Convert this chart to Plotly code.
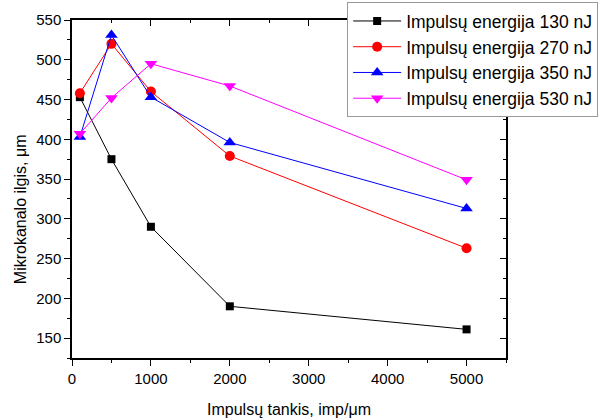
import plotly.graph_objects as go

x_vals = [100, 500, 1000, 2000, 5000]
e130 = [453, 375, 290, 190, 161]
e270 = [458, 520, 460, 379, 263]
e350 = [403, 531, 453, 396, 313]
e530 = [407, 452, 495, 467, 349]

names = ["Impulsų energija 130 nJ", "Impulsų energija 270 nJ",
         "Impulsų energija 350 nJ", "Impulsų energija 530 nJ"]
series = [e130, e270, e350, e530]
colors = ["#000000", "#ff0000", "#0000ff", "#ff00ff"]
symbols = ["square", "circle", "triangle-up", "triangle-down"]
sizes = [8, 10, 11, 11]

fig = go.Figure()
for n, s, c, sym, sz in zip(names, series, colors, symbols, sizes):
    fig.add_trace(go.Scatter(x=x_vals, y=s, name=n, mode="lines+markers",
                             line=dict(color=c, width=1),
                             marker=dict(symbol=sym, size=sz, color=c)))

# dummy trace for mirrored axes
fig.add_trace(go.Scatter(x=[None], y=[None], xaxis="x2", yaxis="y2", showlegend=False))

font = "Arial, Liberation Sans, sans-serif"
xt = [0, 1000, 2000, 3000, 4000, 5000]
yt = [150, 200, 250, 300, 350, 400, 450, 500, 550]
fig.update_layout(
    width=605, height=418,
    margin=dict(l=72, r=99, t=20, b=60, autoexpand=False),
    paper_bgcolor="white", plot_bgcolor="white",
    font=dict(family=font, color="black", size=15),
    xaxis=dict(range=[0, 5500], tickvals=xt,
               ticks="outside", ticklen=6, tickwidth=1, tickcolor="black",
               minor=dict(dtick=500, ticks="outside", ticklen=3, tickcolor="black"),
               showline=True, linecolor="black", linewidth=1.5, showgrid=False, zeroline=False,
               title=dict(text="Impulsų tankis, imp/μm", font=dict(size=16), standoff=18),
               tickfont=dict(size=15)),
    yaxis=dict(range=[125, 550], tickvals=yt,
               ticks="outside", ticklen=6, tickwidth=1, tickcolor="black",
               minor=dict(dtick=25, tick0=125, ticks="outside", ticklen=3, tickcolor="black"),
               showline=True, linecolor="black", linewidth=1.5, showgrid=False, zeroline=False,
               tickfont=dict(size=15)),
    xaxis2=dict(range=[0, 5500], overlaying="x", side="top", tickvals=xt,
                ticks="inside", ticklen=6, tickcolor="black", showticklabels=False,
                minor=dict(dtick=500, ticks="inside", ticklen=3, tickcolor="black"),
                showline=True, linecolor="black", linewidth=1.5, showgrid=False, zeroline=False),
    yaxis2=dict(range=[125, 550], overlaying="y", side="right", tickvals=yt,
                ticks="inside", ticklen=6, tickcolor="black", showticklabels=False,
                minor=dict(dtick=25, tick0=125, ticks="inside", ticklen=3, tickcolor="black"),
                showline=True, linecolor="black", linewidth=1.5, showgrid=False, zeroline=False),
    legend=dict(x=0.634, y=1.053, xanchor="left", yanchor="top",
                bgcolor="white", bordercolor="#999999", borderwidth=1,
                font=dict(size=17.5), tracegroupgap=0, itemwidth=48),
    annotations=[dict(text="Mikrokanalo ilgis, μm", xref="paper", yref="paper",
                      x=-0.12, y=0.44, textangle=-90, showarrow=False,
                      font=dict(size=16), xanchor="center", yanchor="middle")],
    showlegend=True,
)
fig.write_html("out.html")
